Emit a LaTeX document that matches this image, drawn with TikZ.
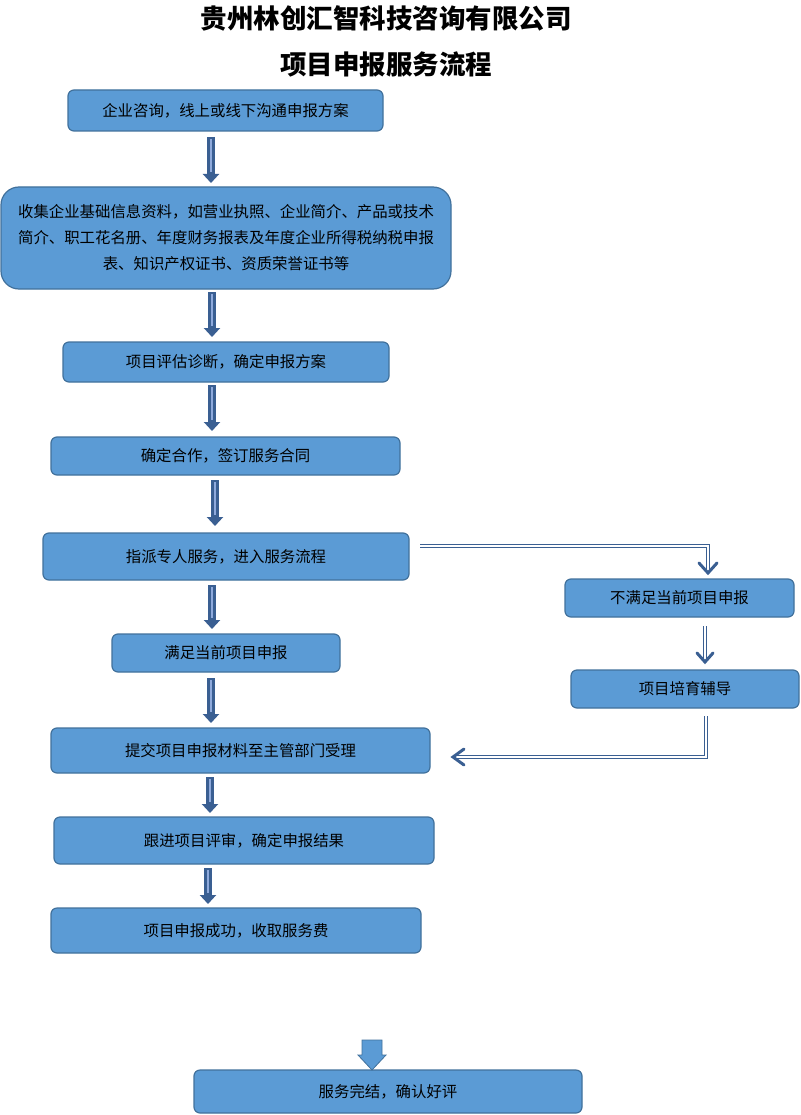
\documentclass[tikz,border=0pt]{standalone}
\usepackage{fontspec}
\setmainfont{Noto Sans CJK SC}
\usetikzlibrary{arrows.meta}
\definecolor{boxfill}{HTML}{5B9BD5}
\definecolor{boxline}{HTML}{41719C}
\definecolor{arrblue}{HTML}{3A5F92}
\definecolor{arrlight}{HTML}{8FAADC}
\tikzset{
  flowbox/.style={draw=boxline, line width=1.2pt, fill=boxfill, rounded corners=6pt, inner sep=0pt,
    font=\fontsize{15.4}{26}\selectfont, text=black, align=center},
  thickarr/.style={draw=arrblue, line width=7.5pt, -{Triangle[length=9pt,width=16pt]}, shorten >=0pt},
  arrcore/.style={draw=arrlight, line width=1.2pt},
  dblline/.style={draw=arrblue, double=white, double distance=1.6pt, line width=1.1pt},
  vhead/.style={draw=arrblue, line width=3pt, line cap=round, line join=miter},
  blockarr/.style={fill=boxfill, draw=boxline, line width=0.8pt},
}
\begin{document}
\begin{tikzpicture}[x=1pt,y=-1pt]
\useasboundingbox (0,0) rectangle (800,1115);
\fill[white] (0,0) rectangle (800,1115);
% titles
\node (t1) at (386,18) {\fontsize{26.5}{30}\selectfont\bfseries 贵州林创汇智科技咨询有限公司};
\node (t2) at (386,64) {\fontsize{26.5}{30}\selectfont\bfseries 项目申报服务流程};
% boxes
\node[flowbox, minimum width=315pt, minimum height=41pt] (n1) at (225.5,110.5) {企业咨询，线上或线下沟通申报方案};
\node[flowbox, rounded corners=18pt, minimum width=450pt, minimum height=102pt] (n2) at (226,238) {收集企业基础信息资料，如营业执照、企业简介、产品或技术\\简介、职工花名册、年度财务报表及年度企业所得税纳税申报\\表、知识产权证书、资质荣誉证书等};
\node[flowbox, minimum width=326pt, minimum height=40pt] (n3) at (226,362) {项目评估诊断，确定申报方案};
\node[flowbox, minimum width=349pt, minimum height=38pt] (n4) at (225.5,456) {确定合作，签订服务合同};
\node[flowbox, minimum width=366pt, minimum height=47pt] (n5) at (226,556.5) {指派专人服务，进入服务流程};
\node[flowbox, minimum width=228pt, minimum height=38pt] (n6) at (226,653) {满足当前项目申报};
\node[flowbox, minimum width=379pt, minimum height=45pt] (n7) at (240.5,750.5) {提交项目申报材料至主管部门受理};
\node[flowbox, minimum width=380pt, minimum height=47pt] (n8) at (244,840.5) {跟进项目评审，确定申报结果};
\node[flowbox, minimum width=370pt, minimum height=45pt] (n9) at (236,930.5) {项目申报成功，收取服务费};
\node[flowbox, minimum width=388pt, minimum height=43pt] (n10) at (388,1091.5) {服务完结，确认好评};
\node[flowbox, minimum width=229pt, minimum height=38pt] (r1) at (679.5,598) {不满足当前项目申报};
\node[flowbox, minimum width=228pt, minimum height=38pt] (r2) at (685,689) {项目培育辅导};
% thick vertical arrows
\foreach \a/\b/\x/\ys/\ye in {n1/n2/211/137/183, n2/n3/212/292/337, n3/n4/212/385/431, n4/n5/215/480/526, n5/n6/212/585/629, n6/n7/211/678/723, n7/n8/210/777/813, n8/n9/208/868/904}{
  \coordinate (s-\a) at (\x,\ys);
  \coordinate (e-\a) at (\x,\ye);
  \draw[thickarr] (s-\a) -- (e-\a);
  \draw[arrcore] ([yshift=-2pt]s-\a) -- ([yshift=11pt]e-\a);
}
% block arrow to final box
\coordinate (ba) at (372,1070);
\filldraw[blockarr]
  (ba) ++(-10,-30) -- ++(20,0) -- ++(0,15) -- ++(4,0) -- (ba) -- ++(-14,-15) -- ++(4,0) -- cycle;
% right branch: n5 -> r1
\coordinate (p1) at (420,546);
\coordinate (p2) at (708,546);
\coordinate (p3) at (708,571);
\draw[dblline] (p1) -- (p2) -- (p3);
\draw[vhead] (699,563) -- (708,573) -- (717,563);
% r1 -> r2
\coordinate (q1) at (705,626);
\coordinate (q2) at (705,660);
\draw[dblline] (q1) -- (q2);
\draw[vhead] (697,653) -- (705,662) -- (713,653);
% r2 -> n7
\coordinate (w1) at (706,716);
\coordinate (w2) at (706,757);
\coordinate (w3) at (456,757);
\draw[dblline] (w1) -- (w2) -- (w3);
\draw[vhead] (464,749) -- (453,757) -- (464,765);
\end{tikzpicture}
\end{document}
